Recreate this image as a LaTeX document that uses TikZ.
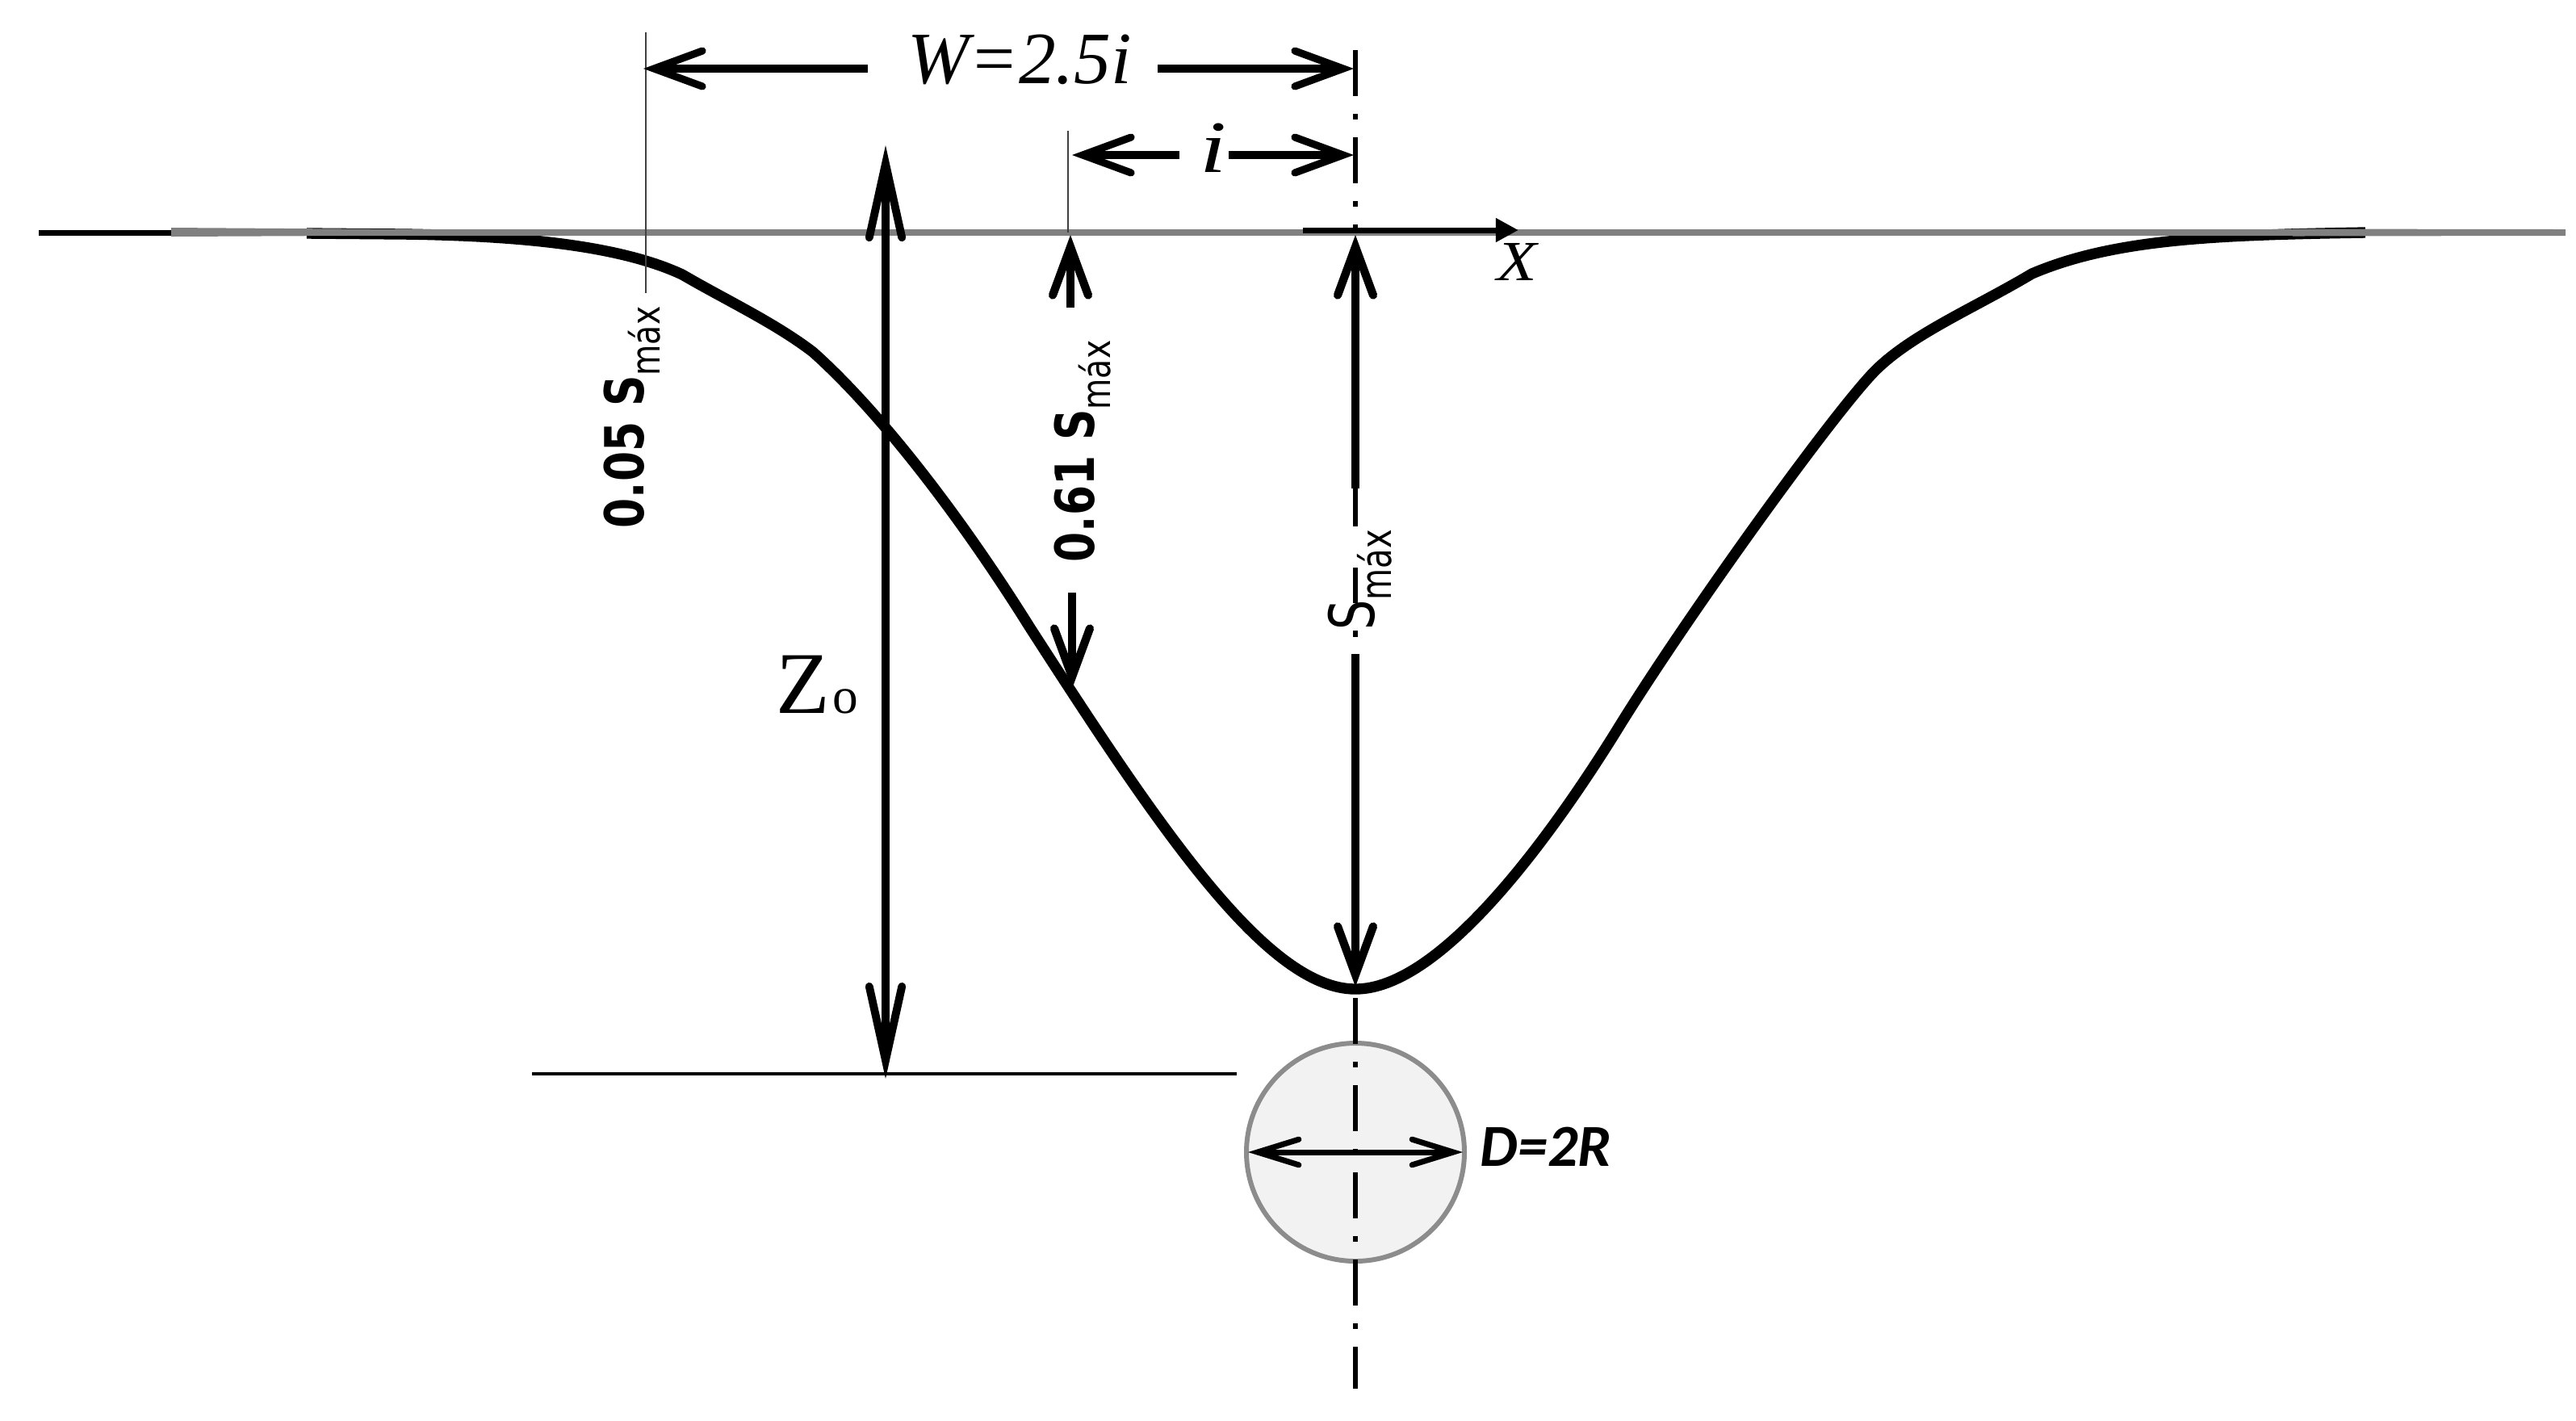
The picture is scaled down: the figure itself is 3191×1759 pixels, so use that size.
\documentclass[tikz,border=0pt]{standalone}
\usepackage{fontspec}
\usepackage{tikz}
\usetikzlibrary{arrows.meta}
\newfontfamily\timesfont{Liberation Serif}
\newfontfamily\dejavufont{DejaVu Sans}
\newfontfamily\carlitofont{Carlito}
\newcommand{\smaxtext}[3]{{\fontsize{#1}{#1}\selectfont S}\raisebox{#3}{\mdseries\fontsize{#2}{#2}\selectfont máx}}
\tikzset{
  dimhead/.style={line width=2.6pt,>={Straight Barb[length=17pt,width=12.5pt,line cap=round,line join=miter]}},
  depthhead/.style={line width=2.9pt,>={Straight Barb[length=17pt,width=12.5pt,line cap=round,line join=miter]}},
  tallhead/.style={line width=2.8pt,>={Straight Barb[length=26pt,width=11.5pt,line cap=round,line join=miter]}},
  diahead/.style={line width=2pt,>={Straight Barb[length=14.5pt,width=9pt,line cap=round,line join=miter]}},
  dashdot/.style={line width=1.9pt,dash pattern=on 0.57cm off 0.22cm on 0.07cm off 0.22cm},
  thinline/.style={line width=0.7pt,color=black!75},
  sidelabel/.style={rotate=90,xscale=0.8,anchor=base west,inner sep=0pt,font=\dejavufont\bfseries},
  serifitalic/.style={inner sep=0pt,anchor=base,font=\timesfont\itshape\fontsize{26}{26}\selectfont}
}
\begin{document}
\begin{tikzpicture}[x=0.01cm,y=-0.01cm]
 \useasboundingbox (0,0) rectangle (3191,1759);
 % settlement trough
 \draw [line width=3.8pt,line join=round] (380,289) -- (500,290)
   .. controls (650,292) and (770,305) .. (845,340)
   .. controls (900,372) and (960,400) .. (1007,436)
   .. controls (1090,510) and (1190,640) .. (1275,776)
   .. controls (1435,1024) and (1569,1225) .. (1679,1225)
   .. controls (1780,1225) and (1910,1053) .. (2000,909)
   .. controls (2085,770) and (2265,520) .. (2320,462)
   .. controls (2365,415) and (2445,382) .. (2517,339)
   .. controls (2620,295) and (2750,291) .. (2930,288);
 \draw [line width=2pt] (48,288) -- (212,288);
 \fill [black!50] (212,282) -- (640,285) -- (640,291) -- (212,293) -- cycle;
 \fill [black!50] (2840,283.5) -- (3178,284) -- (3178,292) -- (2840,292.5) -- cycle;
 \draw [line width=2.1pt,color=black!50] (212,288) -- (3178,288);
 % tunnel
 \filldraw [line width=1.7pt,draw=black!45,fill=black!5] (1679,1427) circle (135);
 \draw [dashdot] (1679,62) -- (1679,288);
 \draw [dashdot] (1679,1236) -- (1679,1720);
 \draw [line width=1.9pt] (1679,605) -- (1679,652);
 \draw [line width=1.9pt] (1679,703) -- (1679,747);
 \draw [line width=1.9pt] (1679,781) -- (1679,789);
 \draw [diahead,<->] (1546,1427) -- (1812,1427);
 \node [inner sep=0pt,anchor=base west,font=\carlitofont\bfseries\itshape\fontsize{21}{21}\selectfont] (diameter) at (1833,1444) {D=2R};
 % thin reference lines
 \draw [thinline] (800,40) -- (800,363);
 \draw [thinline] (1323,162) -- (1323,288);
 \draw [line width=1.4pt] (659,1330) -- (1532,1330);
 % dimensions on top
 \draw [dimhead,->] (1075,85) -- (797,85);
 \draw [dimhead,->] (1434,85) -- (1677,85);
 \node [serifitalic] (width) at (1263,103) {W=2.5i};
 \draw [dimhead,->] (1461,192) -- (1328,192);
 \draw [dimhead,->] (1522,192) -- (1677,192);
 \node [serifitalic,xscale=1.3] (inflexion) at (1503,213) {i};
 % x axis
 \draw [line width=2pt,-{Triangle[length=8pt,width=8pt]}] (1614,285) -- (1881,285);
 \node [inner sep=0pt,anchor=base,xscale=1.15,font=\timesfont\itshape\fontsize{20}{20}\selectfont] (xaxis) at (1879,347) {X};
 % depths
 \draw [tallhead,<->] (1097,180) -- (1097,1336);
 \node [inner sep=0pt,anchor=base east] (depth) at (1064,883) {\timesfont\fontsize{31}{31}\selectfont Z\kern1pt\fontsize{18}{18}\selectfont o};
 \draw [depthhead,->] (1326,381) -- (1326,291);
 \draw [depthhead,->] (1328,734) -- (1328,853);
 \draw [depthhead,->] (1679,605) -- (1679,291);
 \draw [depthhead,->] (1679,810) -- (1679,1222);
 \node [sidelabel] (smallsettle) at (797,655) {\fontsize{19}{19}\selectfont 0.05 \smaxtext{19}{14}{-5.7pt}};
 \node [sidelabel] (inflexsettle) at (1355,697) {\fontsize{19}{19}\selectfont 0.61 \smaxtext{19}{14}{-5.7pt}};
 \node [sidelabel,xscale=0.95,font=\dejavufont] (maxsettle) at (1702,781) {\smaxtext{22}{15}{-6pt}};
\end{tikzpicture}
\end{document}
